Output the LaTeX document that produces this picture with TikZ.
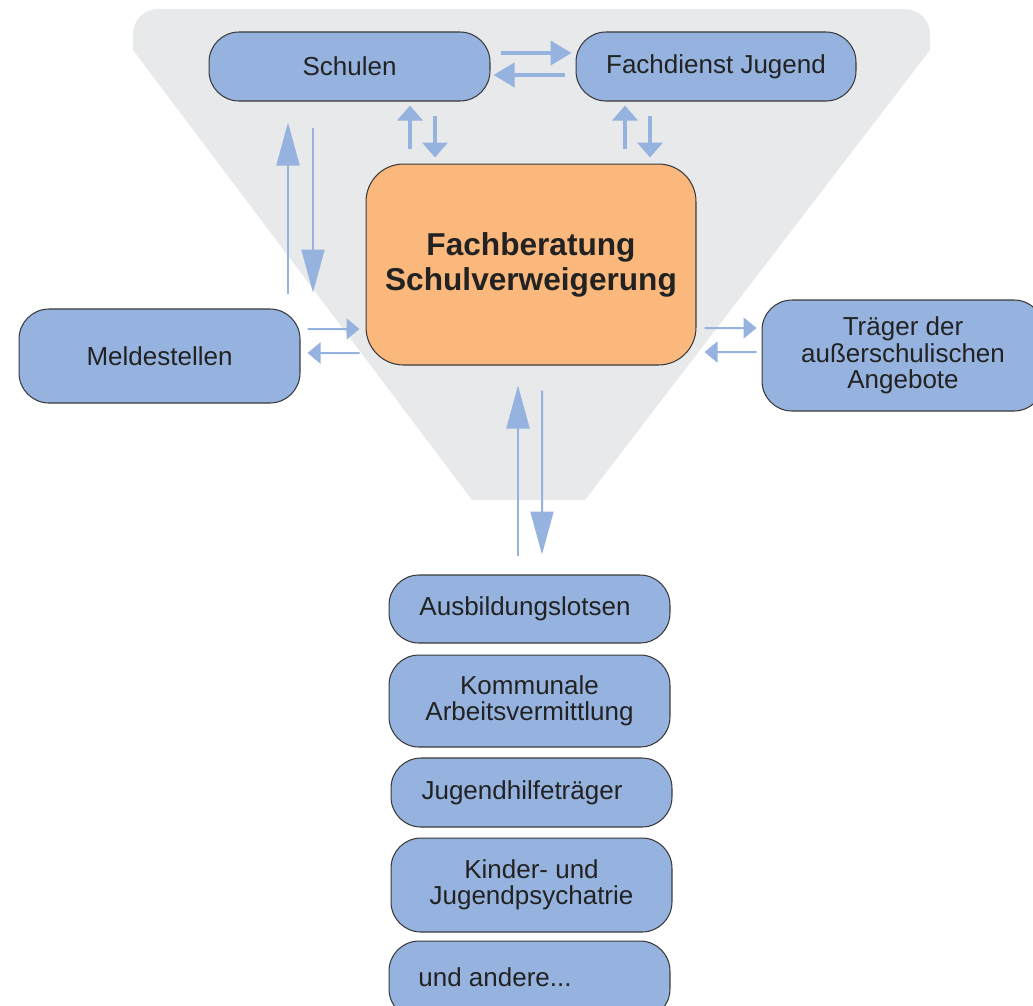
\documentclass[tikz,border=0pt]{standalone}
\usepackage{fontspec}
\setmainfont{Liberation Sans}
\usetikzlibrary{arrows.meta,calc}
\definecolor{boxblue}{HTML}{95B3DE}
\definecolor{fborange}{HTML}{FAB87D}
\definecolor{bggray}{HTML}{E8E9EB}
\definecolor{edgegray}{HTML}{3A3A3A}
\definecolor{textdark}{HTML}{222222}

\begin{document}
\begin{tikzpicture}[x=0.02cm, y=-0.02cm,
	txt/.style={text=textdark, font=\fontsize{14.8pt}{15pt}\selectfont, align=center, inner sep=0pt},
	box/.style={txt, draw=edgegray, line width=0.6pt, fill=boxblue, rounded corners=0.6cm},
	fbbox/.style={box, fill=fborange, rounded corners=0.75cm, font=\fontsize{18pt}{19.9pt}\selectfont\bfseries},
	arrtop/.style={draw=boxblue, line width=0.08cm, -{Triangle[length=0.42cm,width=0.48cm]}},
	arrsmall/.style={draw=boxblue, line width=0.08cm, -{Triangle[length=0.3cm,width=0.5cm]}},
	arrside/.style={draw=boxblue, line width=0.04cm, -{Triangle[length=0.26cm,width=0.42cm]}},
	arrlong/.style={draw=boxblue, line width=0.04cm, -{Triangle[length=0.86cm,width=0.46cm]}}]
	\useasboundingbox (0,0) rectangle (1033,1005);
	\clip (0,0) rectangle (1033,1005);
	%funnel in the background
	\fill[bggray] (133,34) arc[start angle=180, end angle=90, radius=0.5cm] -- (905,9)
		arc[start angle=90, end angle=0, radius=0.5cm] -- (930,50) -- (585,500) -- (472,500) -- (133,50) -- cycle;
	%boxes
	\node[box, minimum width=5.62cm, minimum height=1.38cm] (schulen) at (349.5,66.5) {Schulen};
	\node[box, minimum width=5.6cm, minimum height=1.38cm] (fachdienst) at (716,66.5) {Fachdienst Jugend};
	\node[fbbox, minimum width=6.6cm, minimum height=4.02cm] (fb) at (531,264.5) {Fachberatung\\Schulverweigerung};
	\node[box, minimum width=5.62cm, minimum height=1.88cm] (melde) at (159.5,356) {Meldestellen};
	\node[box, minimum width=5.64cm, minimum height=2.22cm] (traeger) at (903,355.5) {Träger der\\außerschulischen\\Angebote};
	%partners below
	\node[box, minimum width=5.62cm, minimum height=1.36cm] (aus) at (529.5,609) {};
	\node[txt] (ausT) at ([xshift=-0.09cm]aus.center) {Ausbildungslotsen};
	\node[box, minimum width=5.62cm, minimum height=1.84cm] (kom) at (529.5,701) {Kommunale\\Arbeitsvermittlung};
	\node[box, minimum width=5.62cm, minimum height=1.38cm] (jug) at (531.5,792.5) {};
	\node[txt] (jugT) at ([xshift=-0.19cm]jug.center) {Jugendhilfeträger};
	\node[box, minimum width=5.62cm, minimum height=1.88cm] (kin) at (531.5,885) {Kinder- und\\Jugendpsychatrie};
	\node[box, minimum width=5.62cm, minimum height=1.56cm] (und) at (529.5,980) {};
	\node[txt] (undT) at ([xshift=-0.69cm, yshift=0.06cm]und.center) {und andere...};
	%Schulen and Fachdienst
	\draw[arrtop] ($(schulen.east)+(10,-13.5)$) -- ($(fachdienst.west)+(-4,-13.5)$);
	\draw[arrtop] ($(fachdienst.west)+(-11,8.5)$) -- ($(schulen.east)+(3,8.5)$);
	\draw[arrsmall] ($(schulen.south)+(60.5,47)$) -- ($(schulen.south)+(60.5,4)$);
	\draw[arrsmall] ($(schulen.south)+(85.5,14)$) -- ($(schulen.south)+(85.5,56)$);
	\draw[arrsmall] ($(fachdienst.south)+(-91,47)$) -- ($(fachdienst.south)+(-91,4)$);
	\draw[arrsmall] ($(fachdienst.south)+(-66,14)$) -- ($(fachdienst.south)+(-66,56)$);
	\draw[arrlong] ($(schulen.south)+(-61.5,192)$) -- ($(schulen.south)+(-61.5,21)$);
	\draw[arrlong] ($(schulen.south)+(-36.5,26)$) -- ($(schulen.south)+(-36.5,191)$);
	%Meldestellen and Traeger
	\draw[arrside] ($(melde.east)+(7,-27)$) -- ($(fb.west)+(-6,64.5)$);
	\draw[arrside] ($(fb.west)+(-6,88.5)$) -- ($(melde.east)+(7,-3)$);
	\draw[arrside] ($(fb.east)+(8,63.5)$) -- ($(traeger.west)+(-5,-27.5)$);
	\draw[arrside] ($(traeger.west)+(-5,-3.5)$) -- ($(fb.east)+(8,87.5)$);
	%partners
	\draw[arrlong] ($(aus.north)+(-11.5,-18)$) -- ($(fb.south)+(-13,20)$);
	\draw[arrlong] ($(fb.south)+(11,25)$) -- ($(aus.north)+(12.5,-20)$);
\end{tikzpicture}
\end{document}
